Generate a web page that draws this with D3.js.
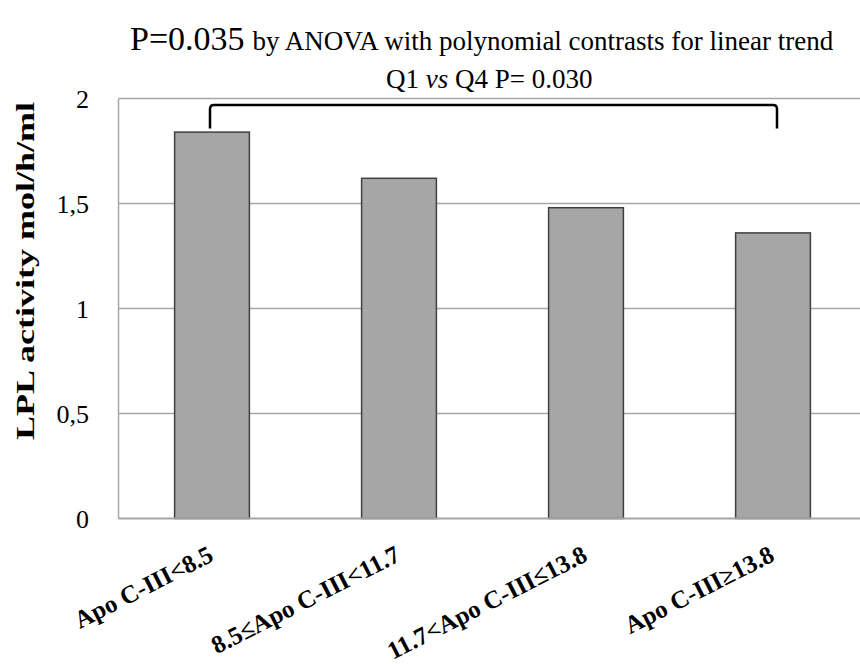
<!DOCTYPE html>
<html>
<head>
<meta charset="utf-8">
<script src="https://cdn.jsdelivr.net/npm/d3@7"></script>
<style>
  body { margin: 0; background: #fff; }
</style>
</head>
<body>
<div id="chart"><svg></svg></div>
<script>
var categories = ['Apo C-III<8.5', '8.5≤Apo C-III<11.7', '11.7<Apo C-III≤13.8', 'Apo C-III≥13.8']
var values = [1.84, 1.62, 1.48, 1.36]
var yTicks = [0, 0.5, 1, 1.5, 2]
var yTickLabels = ['0', '0,5', '1', '1,5', '2']

;(function () {
  var width = 860; var height = 664
  var left = 118.5; var top = 98.5; var bottom = 518.5
  var serif = 'Liberation Serif'

  var svg = d3.select('#chart').select('svg')
    .attr('width', width)
    .attr('height', height)
    .attr('font-family', serif)

  svg.append('rect').attr('width', width).attr('height', height).attr('fill', '#fff')

  const xScale = d3.scaleBand()
    .domain(categories)
    .range([left, left + 4 * 187])
    .paddingInner(0.6)
    .paddingOuter(0.3)

  const yScale = d3.scaleLinear()
    .domain([0, 2])
    .range([bottom, top])

  // gridlines
  svg.selectAll('.grid')
    .data(yTicks.filter(d => d > 0))
    .enter().append('line')
    .attr('x1', left).attr('x2', width)
    .attr('y1', d => yScale(d)).attr('y2', d => yScale(d))
    .attr('stroke', '#a6a6a6').attr('stroke-width', 1.3)

  // axis line
  svg.append('line')
    .attr('x1', left).attr('x2', left)
    .attr('y1', top).attr('y2', bottom)
    .attr('stroke', '#a6a6a6').attr('stroke-width', 1.5)

  // bars
  svg.selectAll('.bar')
    .data(values)
    .enter().append('rect')
    .attr('x', (d, i) => xScale(categories[i]))
    .attr('width', xScale.bandwidth())
    .attr('y', d => yScale(d))
    .attr('height', d => bottom - yScale(d))
    .attr('fill', '#a6a6a6')
    .attr('stroke', '#404040')
    .attr('stroke-width', 1.5)

  svg.append('line')
    .attr('x1', left).attr('x2', width)
    .attr('y1', bottom).attr('y2', bottom)
    .attr('stroke', '#a6a6a6').attr('stroke-width', 2)

  // y tick labels
  svg.selectAll('.ylab')
    .data(yTicks)
    .enter().append('text')
    .attr('x', 89)
    .attr('y', d => yScale(d))
    .attr('dy', '0.35em')
    .attr('text-anchor', 'end')
    .attr('font-size', 26)
    .text((d, i) => yTickLabels[i])

  // y axis title
  svg.append('text')
    .attr('transform', 'translate(34,' + 271 + ') rotate(-90)')
    .attr('text-anchor', 'middle')
    .attr('font-size', 25)
    .attr('font-weight', 'bold')
    .attr('textLength', 338)
    .attr('lengthAdjust', 'spacingAndGlyphs')
    .text('LPL activity mol/h/ml')

  // x labels
  svg.selectAll('.xlab')
    .data(categories)
    .enter().append('text')
    .attr('transform', d => 'translate(' + (xScale(d) + xScale.bandwidth() / 2 + 3) + ',560) rotate(-27)')
    .attr('text-anchor', 'end')
    .attr('font-size', 25)
    .attr('font-weight', 'bold')
    .text(d => d)

  // bracket Q1 vs Q4
  var bx1 = xScale(categories[0]) + xScale.bandwidth() / 2 - 2
  var bx2 = xScale(categories[3]) + xScale.bandwidth() / 2 + 4
  var by = top + 6.5
  svg.append('path')
    .attr('d', 'M' + bx1 + ',' + (top + 30) + 'V' + (by + 4) + 'Q' + bx1 + ',' + by + ' ' + (bx1 + 4) + ',' + by +
      'H' + (bx2 - 4) + 'Q' + bx2 + ',' + by + ' ' + bx2 + ',' + (by + 4) + 'V' + (top + 30))
    .attr('fill', 'none')
    .attr('stroke', '#000')
    .attr('stroke-width', 2.5)

  // titles
  var t1 = svg.append('text').attr('x', 130).attr('y', 50)
  t1.append('tspan').attr('font-size', 34).text('P=0.035')
  t1.append('tspan').attr('font-size', 27).attr('dx', 8).text('by ANOVA with polynomial contrasts for linear trend')

  var t2 = svg.append('text').attr('x', (left + width) / 2).attr('y', 88)
    .attr('text-anchor', 'middle').attr('font-size', 27)
  t2.append('tspan').text('Q1 ')
  t2.append('tspan').attr('font-style', 'italic').text('vs')
  t2.append('tspan').text(' Q4 P= 0.030')
})()
</script>
</body>
</html>
